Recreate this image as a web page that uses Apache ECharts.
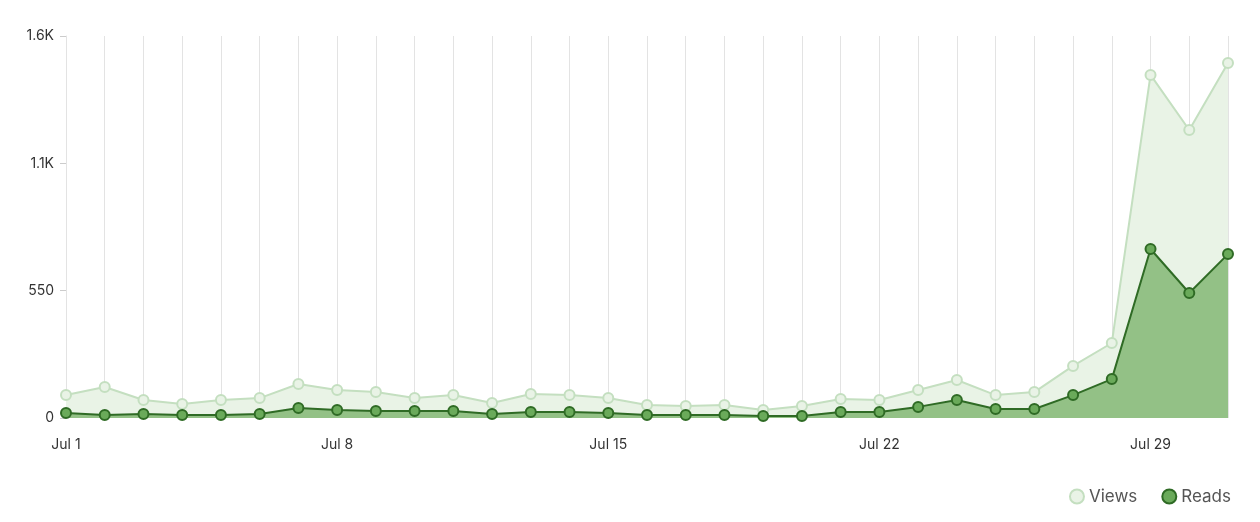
<!DOCTYPE html>
<html><head><meta charset="utf-8">
<script src="https://cdn.jsdelivr.net/npm/echarts@6/dist/echarts.min.js"></script>
<style>html,body{margin:0;background:#fff}#c{width:1260px;height:522px}</style>
</head><body><div id="c"></div>
<script>
const categories = Array.from({length:31},(_, i)=>'Jul '+(i+1));
const views = [99,134,78,60,78,86,147,121,112,86,99,65,104,99,86,56,52,56,35,52,82,78,121,164,99,112,225,324,1482,1244,1533];
const reads = [22,13,17,13,13,17,43,35,30,30,30,17,26,26,22,13,13,13,9,9,26,26,48,78,39,39,99,168,730,540,708];
const yTicks = {0:'0',550:'550',1100:'1.1K',1650:'1.6K'};
const chart = echarts.init(document.getElementById('c'));
const font = 'Inter';
chart.setOption({
  animation:false,
  grid:{left:66,right:32,top:36,bottom:104},
  legend:{right:24,bottom:12,itemGap:24,icon:'circle',itemWidth:14,itemHeight:14,
    textStyle:{fontFamily:font,fontSize:17,color:'#555'},data:['Views','Reads']},
  xAxis:{type:'category',boundaryGap:false,data:categories,
    axisLine:{show:false},axisTick:{show:false},
    axisLabel:{interval:6,fontFamily:font,fontSize:14,color:'#333',margin:20},
    splitLine:{show:true,interval:0,lineStyle:{color:'#e3e3e3'}}},
  yAxis:{type:'value',min:0,max:1650,interval:550,
    axisLine:{show:true,lineStyle:{color:'#e3e3e3'}},axisTick:{show:true,length:6,lineStyle:{color:'#ccc'}},
    axisLabel:{formatter:v=>yTicks[v]??'',fontFamily:font,fontSize:14,color:'#333',margin:12},
    splitLine:{show:false}},
  series:[
    {name:'Views',type:'line',data:views,symbol:'circle',symbolSize:10,
     lineStyle:{color:'#c4dfc0',width:2},itemStyle:{color:'#e9f3e6',borderColor:'#c4dfc0',borderWidth:2},
     areaStyle:{color:'#e9f3e6',opacity:1}},
    {name:'Reads',type:'line',data:reads,symbol:'circle',symbolSize:10,
     lineStyle:{color:'#2f6b25',width:2},itemStyle:{color:'#6aaa5a',borderColor:'#2f6b25',borderWidth:2},
     areaStyle:{color:'#93c186',opacity:1}}
  ]
});
</script></body></html>
